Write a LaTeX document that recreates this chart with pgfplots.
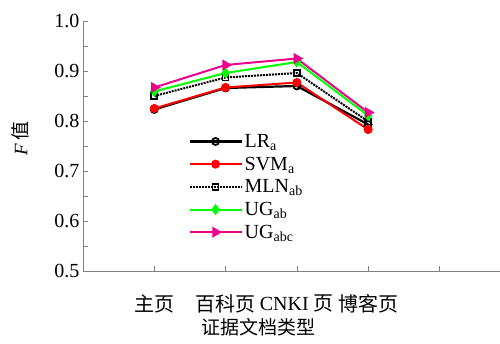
\documentclass[border=0pt]{standalone}
\usepackage{pgfplots}
\pgfplotsset{compat=1.18}
\usepackage{fontspec}
\setmainfont{Liberation Serif}
\newfontfamily\cjk{Noto Sans CJK SC}
\usetikzlibrary{calc}
\begin{document}
\begin{tikzpicture}
\begin{axis}[
  name=ax,
  scale only axis,
  width=417pt, height=250pt,
  xmin=0, xmax=5.85,
  ymin=0.5, ymax=1.0,
  axis x line*=bottom,
  axis y line*=left,
  axis line style={gray, line width=0.6pt},
  tick style={gray, line width=0.6pt},
  tick align=inside,
  major tick length=5pt,
  minor tick length=5pt,
  xtick={1,2,3,4,5},
  xticklabels={{\cjk 主页}, {\cjk 百科页}, {CNKI {\cjk 页}}, {\cjk 博客页}, {}},
  ytick={0.5,0.6,0.7,0.8,0.9,1.0},
  minor ytick={0.55,0.65,0.75,0.85,0.95},
  yticklabel style={/pgf/number format/.cd, fixed, precision=1, zerofill, assume math mode=true},
  ticklabel style={font=\fontsize{20}{22}\selectfont},
  xticklabel style={yshift=-20pt},
  xlabel={\cjk 证据文档类型},
  xlabel style={font=\fontsize{19}{21}\selectfont, at={(axis description cs:0.422,0)}, anchor=center, yshift=-56pt},
  ylabel={\textit{F}\,{\cjk 值}},
  ylabel style={font=\fontsize{19}{21}\selectfont, at={(axis description cs:-0.151,0.53)}, anchor=center},
  legend style={draw=none, fill=none, at={(axis description cs:0.25,0.56)}, anchor=north west,
    font=\fontsize{20}{22}\selectfont, row sep=4pt, inner sep=1pt},
  legend cell align=left,
  legend image code/.code={\draw[mark repeat=2,mark phase=2] plot coordinates {(0pt,0pt)(26pt,0pt)(52pt,0pt)};},
  clip=false,
]
\addplot[black, line width=2.2pt, mark=o, mark size=3.5pt, mark options={solid, line width=1.8pt}]
  coordinates {(1,0.823)(2,0.866)(3,0.870)(4,0.793)};
\addlegendentry{LR\textsubscript{a}}
\addplot[red, line width=2pt, mark=*, mark size=3.5pt]
  coordinates {(1,0.825)(2,0.867)(3,0.877)(4,0.783)};
\addlegendentry{SVM\textsubscript{a}}
\addplot[black, line width=2pt, densely dotted, mark=square, mark size=3pt, mark options={solid, line width=1.8pt}]
  coordinates {(1,0.850)(2,0.887)(3,0.896)(4,0.799)};
\addlegendentry{MLN\textsubscript{ab}}
\addplot[green, line width=2pt, mark=diamond*, mark size=4pt]
  coordinates {(1,0.859)(2,0.896)(3,0.918)(4,0.811)};
\addlegendentry{UG\textsubscript{ab}}
\addplot[magenta, line width=2pt, mark=triangle*, mark size=4.5pt, mark options={rotate=-90}]
  coordinates {(1,0.867)(2,0.912)(3,0.925)(4,0.817)};
\addlegendentry{UG\textsubscript{abc}}
\end{axis}
\pgfresetboundingbox
\path[use as bounding box] ($(ax.south west)+(-83pt,-73pt)$) rectangle ++(500pt,344pt);
\end{tikzpicture}
\end{document}
